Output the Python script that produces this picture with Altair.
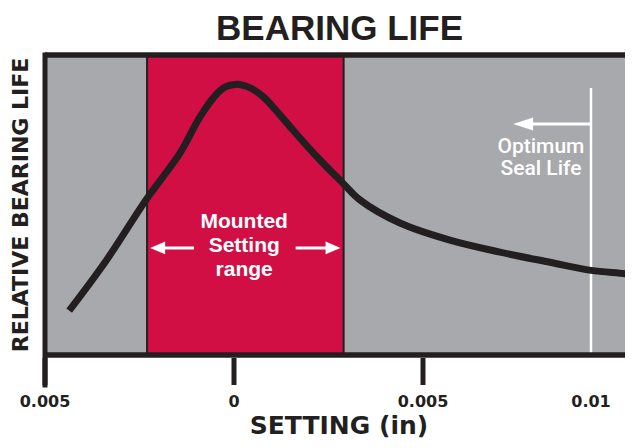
import altair as alt
import pandas as pd

# ---- data ----
setting = [-0.00436, -0.00337, -0.00233, -0.00143, -0.0009, -0.00046, -0.00023, 0.00003,
           0.00027, 0.0005, 0.00078, 0.00103, 0.00156, 0.0022, 0.00288, 0.00333, 0.00439,
           0.0058, 0.00729, 0.00878, 0.01, 0.01101, 0.01125]
life = [14.8, 31.7, 51.7, 67.3, 79.4, 87.0, 89.4, 90.2,
        89.8, 88.6, 86.0, 82.7, 75.0, 66.0, 57.3, 51.7, 44.0,
        38.3, 34.3, 30.9, 28.2, 27.1, 26.6]

tick_values = [-0.005, 0, 0.005]
label_values = [-0.005, 0, 0.005, 0.01]
label_texts = ["0.005", "0", "0.005", "0.01"]

mounted_range = [-0.0023, 0.0029]
optimum_setting = 0.01
optimum_line_top = 89
optimum_arrow_tip = 0.00768
mounted_arrow_level = 35.7
optimum_arrow_level = 77

title_text = "BEARING LIFE"
x_title = "SETTING (in)"
y_title = "RELATIVE BEARING LIFE"
mounted_text = "Mounted\nSetting\nrange"
optimum_text = "Optimum\nSeal Life"

RED = "#D10F45"
GRAY = "#A7A9AC"
DARK = "#231F20"
WHITE = "#FFFFFF"

W, H = 580, 300
xscale = alt.Scale(domain=[-0.005, 0, 0.005, 0.01, 0.01101],
                   range=[0, 189, 378, 546, 580])
yscale = alt.Scale(domain=[0, 100])

def X(field="x"):
    return alt.X(f"{field}:Q", scale=xscale, axis=None)

def Y(field="y"):
    return alt.Y(f"{field}:Q", scale=yscale, axis=None)

curve_df = pd.DataFrame({"x": setting, "y": life})
band_df = pd.DataFrame({"x": [mounted_range[0]], "x2": [mounted_range[1]]})
opt_df = pd.DataFrame({"x": [optimum_setting], "y": [0], "y2": [optimum_line_top]})
ticks_df = pd.DataFrame({"x": tick_values})
labels_df = pd.DataFrame({"x": label_values, "t": label_texts})

band = alt.Chart(band_df).mark_rect(color=RED, stroke=DARK, strokeWidth=2).encode(
    x=X(), x2="x2:Q", y=alt.value(0), y2=alt.value(H))

opt_line = alt.Chart(opt_df).mark_rule(color=WHITE, strokeWidth=2.5).encode(
    x=X(), y=Y(), y2="y2:Q")

# arrows
shafts_df = pd.DataFrame({
    "x": [-0.0021, 0.00163, 0.0080],
    "x2": [-0.00106, 0.0026, optimum_setting],
    "y": [mounted_arrow_level, mounted_arrow_level, optimum_arrow_level]})
shafts = alt.Chart(shafts_df).mark_rule(color=WHITE, strokeWidth=3).encode(
    x=X(), x2="x2:Q", y=Y())

left_heads_df = pd.DataFrame({"x": [-0.00202], "y": [mounted_arrow_level]})
right_heads_df = pd.DataFrame({"x": [0.00262], "y": [mounted_arrow_level]})
opt_head_df = pd.DataFrame({"x": [optimum_arrow_tip + 0.0003], "y": [optimum_arrow_level]})

left_heads = alt.Chart(left_heads_df).mark_point(
    shape="M-1,0L1,-0.86L1,0.86Z", filled=True, size=225, color=WHITE, opacity=1,
    strokeWidth=0).encode(x=X(), y=Y())
right_heads = alt.Chart(right_heads_df).mark_point(
    shape="M1,0L-1,-0.86L-1,0.86Z", filled=True, size=225, color=WHITE, opacity=1,
    strokeWidth=0).encode(x=X(), y=Y())
opt_head = alt.Chart(opt_head_df).mark_point(
    shape="M-1,0L1,-0.65L1,0.65Z", filled=True, size=400, color=WHITE, opacity=1,
    strokeWidth=0).encode(x=X(), y=Y())

curve = alt.Chart(curve_df).mark_line(
    color=DARK, strokeWidth=7, interpolate="catmull-rom", strokeCap="butt", clip=True
).encode(x=X(), y=Y())

# frame
frame_top = alt.Chart(pd.DataFrame({"a": [0]})).mark_rule(
    color=DARK, strokeWidth=5.5).encode(x=alt.value(0), x2=alt.value(W + 10), y=alt.value(0))
frame_bottom = alt.Chart(pd.DataFrame({"a": [0]})).mark_rule(
    color=DARK, strokeWidth=5.5).encode(x=alt.value(0), x2=alt.value(W + 10), y=alt.value(H))
frame_left = alt.Chart(pd.DataFrame({"a": [0]})).mark_rule(
    color=DARK, strokeWidth=5, strokeCap="square").encode(
    x=alt.value(0), y=alt.value(0), y2=alt.value(H + 30))

ticks = alt.Chart(ticks_df).mark_rule(color=DARK, strokeWidth=5).encode(
    x=X(), y=alt.value(H + 3), y2=alt.value(H + 30))

tick_labels = alt.Chart(labels_df).mark_text(
    font="DejaVu Sans", fontWeight="bold", fontSize=16, color=DARK,
    align="center", baseline="alphabetic").encode(
    x=X(), y=alt.value(H + 52), text="t:N")

mounted = alt.Chart(pd.DataFrame({"x": [0.00027], "y": [42.3], "t": [mounted_text]})).mark_text(
    font="Liberation Sans", fontWeight="bold", fontSize=21, color=WHITE,
    align="center", baseline="alphabetic", lineBreak="\n", lineHeight=24).encode(
    x=X(), y=Y(), text="t:N")

optimum = alt.Chart(pd.DataFrame({"x": [0.00851], "y": [67.3], "t": [optimum_text]})).mark_text(
    font="Roboto", fontWeight=500, fontSize=21, color=WHITE,
    align="center", baseline="alphabetic", lineBreak="\n", lineHeight=22).encode(
    x=X(), y=Y(), text="t:N")

title = alt.Chart(pd.DataFrame({"t": [title_text]})).mark_text(
    font="Liberation Sans", fontWeight="bold", fontSize=35, color=DARK,
    align="center", baseline="alphabetic").encode(
    x=alt.value(294.5), y=alt.value(-15), text="t:N")

xtitle = alt.Chart(pd.DataFrame({"t": [x_title]})).mark_text(
    font="DejaVu Sans", fontWeight="bold", fontSize=25, color=DARK,
    align="center", baseline="alphabetic").encode(
    x=alt.value(294), y=alt.value(379), text="t:N")

ytitle = alt.Chart(pd.DataFrame({"t": [y_title]})).mark_text(
    font="DejaVu Sans", fontWeight="bold", fontSize=22, color=DARK,
    align="center", baseline="middle", angle=270).encode(
    x=alt.value(-24), y=alt.value(150), text="t:N")

chart = alt.layer(
    band, opt_line, shafts, left_heads, right_heads, opt_head, curve,
    frame_top, frame_bottom, frame_left, ticks, tick_labels,
    mounted, optimum, title, xtitle, ytitle
).properties(
    width=W, height=H,
    padding={"left": 37, "top": 47, "right": 0, "bottom": 85},
    autosize=alt.AutoSizeParams(type="none"),
    background=WHITE,
).configure_view(fill=GRAY, stroke="transparent")

chart.save("out.html", embed_options={"renderer": "svg", "actions": False})
